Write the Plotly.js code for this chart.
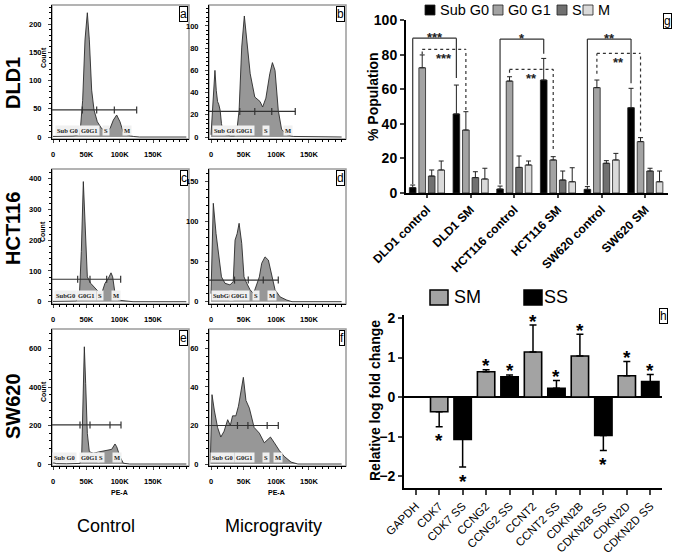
<!DOCTYPE html>
<html>
<head>
<meta charset="utf-8">
<script src="https://cdn.plot.ly/plotly-3.0.1.min.js"></script>
<style>
  html, body { margin: 0; padding: 0; background: #fff; }
  #chart { width: 675px; height: 555px; }
</style>
</head>
<body>
<div id="chart"></div>
<script>
const W = 675, H = 555;
const FONT = 'Arial, "Liberation Sans", sans-serif';
const px = v => v / W;
const py = v => 1 - v / H;

// flow cytometry histograms, PE-A in thousands vs count
const dld1CtrlPE = [0, 10, 20, 30, 36, 40.5, 44.5, 48, 51.5, 54.5, 58, 61.5, 66.5, 73, 80.5, 85.5, 90.5, 95.5, 100.5, 105.5, 113, 120.5, 130, 200];
const dld1CtrlCount = [1, 1, 1, 2, 3, 6, 65, 172, 220, 172, 83, 48, 27, 15, 11, 15, 30, 39, 27, 8, 3, 1, 0, 0];
const dld1MgPE = [0, 3, 6, 8, 10, 12, 14, 16, 18, 22, 30, 36, 39, 43, 47, 51, 55, 60, 67, 75, 79, 84, 90, 94, 98, 103, 108, 116, 126, 200];
const dld1MgCount = [2, 30, 60, 42, 32, 29, 24, 12, 6, 2, 1, 1, 3, 24, 81, 109, 84, 57, 36, 32, 27, 35, 57, 67, 60, 24, 7, 2, 0.5, 0];
const hctCtrlPE = [0, 20, 35, 39.5, 42.5, 45.5, 48.5, 51.5, 56.5, 63, 68, 73, 78, 83, 87, 89.5, 93, 98, 110, 120, 200];
const hctCtrlCount = [1, 2, 3, 16, 163, 391, 223, 81, 60, 44, 33, 27, 60, 76, 94, 81, 27, 5, 2, 0, 0];
const hctMgPE = [0, 1.5, 3.5, 7.7, 11, 16, 21.4, 29, 34, 36.8, 40, 43, 47, 50.5, 54.7, 59.7, 65, 70, 74, 77.6, 82.7, 87.8, 93, 98, 105.7, 116, 124, 200];
const hctMgCount = [10, 80, 123, 85, 60, 31, 23, 21, 25, 77, 85, 98, 73, 31, 23, 15, 10, 23, 31, 48, 56, 52, 35, 15, 6, 2, 0, 0];
const swCtrlPE = [0, 2, 5, 20, 38, 40.5, 43, 45.5, 47, 49, 51.5, 54.5, 60.5, 70.5, 80.5, 88, 93, 95.5, 100.5, 105.5, 115, 200];
const swCtrlCount = [10, 5, 2, 1, 1, 3, 38, 332, 609, 419, 159, 64, 56, 64, 73, 76, 104, 90, 38, 4, 0, 0];
const swMgPE = [-1, 0, 1.5, 5, 10, 15, 20, 25.5, 29.5, 33, 38, 42, 46, 49.5, 53.5, 58.7, 66, 74, 81.6, 86.8, 91, 97, 104.6, 112, 122.5, 133, 200];
const swMgCount = [2, 25, 36, 28, 19, 14, 17, 23, 20, 25, 25, 30, 37, 45, 33, 29, 19, 16, 11, 12.5, 14, 11, 7, 4, 1, 0, 0];

// gate boundaries (K) and gate line level (count)
const dld1CtrlGates = [44, 65.5, 92, 125.5];
const dld1MgGates = [44, 67, 93, 129];
const hctCtrlGates = [37, 55.5, 80.5, 101.5];
const hctMgGates = [36, 57, 80, 103];
const swCtrlGates = [40.5, 55.5, 85.5, 102];
const swMgGates = [40.5, 56.5, 86, 103];
const gateLevels = [48, 23, 73, 27, 203, 20];

const peTicks = [0, 50, 100, 150];
const peTickText = ['0', '50K', '100K', '150K'];

// cell cycle populations (%)
const groups = ['DLD1 control', 'DLD1 SM', 'HCT116 control', 'HCT116 SM', 'SW620 control', 'SW620 SM'];
const phases = ['Sub G0', 'G0 G1', 'S', 'M'];
const subG0 = [3.1, 45.7, 2.3, 65.3, 2.1, 49.3];
const subG0Err = [1.5, 16.7, 1.7, 12.5, 1.6, 11.2];
const g0g1 = [72.4, 36.4, 64.7, 19.1, 60.9, 29.7];
const g0g1Err = [7.4, 10.6, 2.5, 1.9, 4.4, 2.3];
const sPhase = [9.8, 8.9, 14.8, 7.5, 17.2, 12.7];
const sPhaseErr = [3.5, 3.4, 6.6, 5.2, 1.5, 1.6];
const mPhase = [13.3, 8.1, 16.2, 6.5, 19.1, 6.5];
const mPhaseErr = [5.2, 6.2, 2.3, 8.1, 3.8, 6.2];

// significance brackets: [from group, to group, phase slot, top, left end, right end, stars, dashed]
const brackets = [
  [0, 1, 0, 89.5, 5, 66.5, '***', false],
  [0, 1, 1, 83, 80, 48, '***', true],
  [2, 3, 0, 89, 5, 80.5, '*', false],
  [2, 3, 1, 71.5, 69.5, 25.5, '**', true],
  [4, 5, 0, 89, 4.5, 63.5, '**', false],
  [4, 5, 1, 80.7, 69, 35.5, '**', true]
];

// gene expression (relative log fold change)
const genes = ['GAPDH', 'CDK7', 'CDK7 SS', 'CCNG2', 'CCNG2 SS', 'CCNT2', 'CCNT2 SS', 'CDKN2B', 'CDKN2B SS', 'CDKN2D', 'CDKN2D SS'];
const smGenes = ['CDK7', 'CCNG2', 'CCNT2', 'CDKN2B', 'CDKN2D'];
const smFold = [-0.37, 0.64, 1.14, 1.04, 0.54];
const smErr = [0.38, 0.05, 0.68, 0.55, 0.36];
const ssGenes = ['CDK7 SS', 'CCNG2 SS', 'CCNT2 SS', 'CDKN2B SS', 'CDKN2D SS'];
const ssFold = [-1.07, 0.51, 0.22, -0.97, 0.39];
const ssErr = [0.70, 0.05, 0.20, 0.38, 0.18];

const traces = [];
const layout = {
  width: W, height: H,
  margin: {l: 0, r: 0, t: 0, b: 0},
  paper_bgcolor: '#fff', plot_bgcolor: '#fff',
  font: {family: FONT, color: '#000'},
  showlegend: false,
  barmode: 'group', bargap: 0.13, bargroupgap: 0.3,
  shapes: [], annotations: []
};

function smallFont(size) { return {family: FONT, size: size, weight: 'bold', color: '#000'}; }
// text placed in page pixels, centred on (x, y)
function label(text, x, y, font, extra) {
  layout.annotations.push(Object.assign({xref: 'paper', yref: 'paper', x: px(x), y: py(y),
    xanchor: 'center', yanchor: 'middle', text: text, showarrow: false, font: font}, extra || {}));
}

// ---- histogram panels a-f ----
const hist = [
  {pe: dld1CtrlPE, n: dld1CtrlCount, gates: dld1CtrlGates, lab: ['Sub G0', 'G0G1', 'S', 'M'], labX: [21, 54, 80, 111],
   box: [52, 5, 189, 139], xr: [-1.5, 204], yr: [-3.5, 233.7], dt: 50, tag: 'a', count: 58},
  {pe: dld1MgPE, n: dld1MgCount, gates: dld1MgGates, lab: ['Sub G0', 'G0G1', 'S', 'M'], labX: [20, 52, 84, 118],
   box: [209, 5, 346, 139], xr: [-3.1, 206.7], yr: [-1.8, 118.9], dt: 20, tag: 'b'},
  {pe: hctCtrlPE, n: hctCtrlCount, gates: hctCtrlGates, lab: ['SubG0', 'G0G1', 'S', 'M'], labX: [18, 50, 71, 94.5],
   box: [52, 169, 189, 304], xr: [-1.5, 204], yr: [-7.5, 432], dt: 100, tag: 'c', count: 232},
  {pe: hctMgPE, n: hctMgCount, gates: hctMgGates, lab: ['SubG0', 'G0G1', 'S', 'M'], labX: [17, 44, 69, 93],
   box: [209, 169, 346, 304], xr: [-3.1, 206.7], yr: [-2.9, 165.9], dt: 50, tag: 'd'},
  {pe: swCtrlPE, n: swCtrlCount, gates: swCtrlGates, lab: ['Sub G0', 'G0G1', 'S', 'M'], labX: [16.5, 54, 72, 96],
   box: [52, 329, 189, 466], xr: [-1.5, 204], yr: [-10.4, 701.3], dt: 200, tag: 'e', count: 392, pea: true},
  {pe: swMgPE, n: swMgCount, gates: swMgGates, lab: ['Sub G0', 'G0G1', 'S', 'M'], labX: [17, 50.5, 84, 103],
   box: [209, 329, 346, 466], xr: [-3.1, 206.7], yr: [-1.04, 70.1], dt: 20, tag: 'f', pea: true}
];

hist.forEach((p, i) => {
  const k = i + 1;
  const xa = 'x' + (k === 1 ? '' : k), ya = 'y' + (k === 1 ? '' : k);
  const xk = 'xaxis' + (k === 1 ? '' : k), yk = 'yaxis' + (k === 1 ? '' : k);
  traces.push({
    type: 'scatter', mode: 'lines', x: p.pe, y: p.n, xaxis: xa, yaxis: ya,
    fill: 'tozeroy', fillcolor: '#979797', line: {color: '#2a2a2a', width: 0.9},
    hoverinfo: 'skip'
  });
  layout[xk] = {
    domain: [px(p.box[0]), px(p.box[2])], anchor: ya, range: p.xr,
    showgrid: false, zeroline: false, showline: true, linecolor: '#000', linewidth: 1,
    tickvals: peTicks, ticktext: peTickText, ticks: 'outside', ticklen: 3, tickwidth: 1,
    minor: {dtick: 10, ticks: 'outside', ticklen: 2, tickcolor: '#000'},
    tickfont: smallFont(7.5), ticklabelstandoff: 5
  };
  layout[yk] = {
    domain: [py(p.box[3]), py(p.box[1])], anchor: xa, range: p.yr,
    showgrid: false, zeroline: false, showline: true, linecolor: '#000', linewidth: 1,
    dtick: p.dt, tick0: 0, ticks: 'outside', ticklen: 3, tickwidth: 1,
    minor: {dtick: p.dt / 5, ticks: 'outside', ticklen: 2, tickcolor: '#000'},
    tickfont: smallFont(7.5), ticklabelstandoff: 5
  };
  // grey frame
  layout.shapes.push({type: 'rect', xref: xa + ' domain', yref: ya + ' domain', x0: 0, x1: 1, y0: 0, y1: 1,
    line: {color: '#9a9a9a', width: 1.5}, layer: 'below'});
  // gate line with boundary marks
  const lvl = gateLevels[i];
  layout.shapes.push({type: 'line', xref: xa, yref: ya, x0: p.xr[0], x1: p.gates[3], y0: lvl, y1: lvl,
    line: {color: '#333', width: 1.2}});
  p.gates.forEach(g => {
    layout.shapes.push({type: 'line', xref: xa, yref: ya, x0: g, x1: g, ysizemode: 'pixel', yanchor: lvl,
      y0: -3.5, y1: 3.5, line: {color: '#333', width: 1.2}});
  });
  p.lab.forEach((t, j) => {
    layout.annotations.push({xref: xa, yref: ya + ' domain', x: p.labX[j], y: 0, xanchor: 'center', yanchor: 'bottom', yshift: 3,
      text: t, showarrow: false, font: {family: 'Liberation Serif, serif', size: 6.5, weight: 'bold', color: '#222'},
      bgcolor: '#f0f0f0', borderpad: 1});
  });
  // panel letter
  layout.annotations.push({xref: xa + ' domain', yref: ya + ' domain', x: 1, y: 1, xanchor: 'right', yanchor: 'top',
    xshift: -1, yshift: -1, text: p.tag, showarrow: false, font: {family: FONT, size: 12, color: '#000'},
    bordercolor: '#000', borderwidth: 1, borderpad: 0, bgcolor: '#fff'});
  if (p.count) label('Count', 43, p.count, smallFont(7), {textangle: -90});
  if (p.pea) {
    layout.annotations.push({xref: xa + ' domain', yref: 'paper', x: 0.49, y: py(492), xanchor: 'center', yanchor: 'middle',
      text: 'PE-A', showarrow: false, font: smallFont(7)});
  }
});

// row / column labels
[['DLD1', 83], ['HCT116', 229], ['SW620', 406]].forEach(r => {
  label(r[0], 13, r[1], {family: FONT, size: 20, weight: 'bold', color: '#000'}, {textangle: -90});
});
[['Control', 106], ['Microgravity', 273]].forEach(c => {
  label(c[0], c[1], 526, {family: FONT, size: 18, color: '#000'});
});

// ---- panel g: cell cycle bars ----
const phaseData = [[subG0, subG0Err], [g0g1, g0g1Err], [sPhase, sPhaseErr], [mPhase, mPhaseErr]];
const phaseColors = ['#000000', '#a3a3a3', '#707070', '#dadada'];
phaseData.forEach((d, j) => {
  traces.push({
    type: 'bar', x: groups, y: d[0], name: phases[j], xaxis: 'x7', yaxis: 'y7',
    marker: {color: phaseColors[j], line: {color: '#222', width: 0.8}},
    error_y: {type: 'data', array: d[1], arrayminus: d[1].map(() => 0), symmetric: false,
      color: '#222', thickness: 1, width: 2.5},
    hoverinfo: 'skip'
  });
});
layout.xaxis7 = {
  domain: [px(406), px(668)], anchor: 'y7', type: 'category', range: [-0.48, 5.52],
  showgrid: false, zeroline: false, showline: true, linecolor: '#000', linewidth: 2,
  ticks: 'outside', ticklen: 3, tickwidth: 2, tickangle: -45,
  tickfont: {family: FONT, size: 12, weight: 'bold', color: '#000'}
};
layout.yaxis7 = {
  domain: [py(193), py(20)], anchor: 'x7', range: [0, 100], dtick: 20,
  showgrid: false, zeroline: false, showline: true, linecolor: '#000', linewidth: 2,
  ticks: 'outside', ticklen: 4, tickwidth: 2,
  tickfont: {family: FONT, size: 14, weight: 'bold', color: '#000'}
};
label('% Population', 373, 97, {family: FONT, size: 14, weight: 'bold', color: '#000'}, {textangle: -90});

const slot = (1 - layout.bargap) / phases.length;
const slotOffset = j => (j - (phases.length - 1) / 2) * slot;
brackets.forEach(b => {
  const x0 = b[0] + slotOffset(b[2]), x1 = b[1] + slotOffset(b[2]);
  const line = {color: '#333', width: 1.2, dash: b[7] ? 'dot' : 'solid'};
  layout.shapes.push({type: 'line', xref: 'x7', yref: 'y7', x0: x0, x1: x0, y0: b[4], y1: b[3], line: line});
  layout.shapes.push({type: 'line', xref: 'x7', yref: 'y7', x0: x0, x1: x1, y0: b[3], y1: b[3], line: line});
  layout.shapes.push({type: 'line', xref: 'x7', yref: 'y7', x0: x1, x1: x1, y0: b[5], y1: b[3], line: line});
  layout.annotations.push({xref: 'x7', yref: 'y7', x: (x0 + x1) / 2, y: b[3], text: b[6], showarrow: false,
    xanchor: 'center', yanchor: 'middle', yshift: b[7] ? -9 : 1,
    font: {family: FONT, size: 13, weight: 'bold', color: '#222'}});
});

// legend g
const gLegendX = [425, 493, 557, 583];
phases.forEach((name, j) => {
  const x0 = gLegendX[j];
  layout.shapes.push({type: 'rect', xref: 'paper', yref: 'paper', x0: px(x0), x1: px(x0 + 10), y0: py(15), y1: py(5),
    fillcolor: phaseColors[j], line: {color: '#222', width: 0.8}});
  label(name, x0 + 13, 10, {family: FONT, size: 14.5, color: '#000'}, {xanchor: 'left'});
});
layout.annotations.push({xref: 'paper', yref: 'paper', x: px(672), y: py(13), xanchor: 'right', yanchor: 'top',
  text: 'g', showarrow: false, font: {family: FONT, size: 12, color: '#000'},
  bordercolor: '#000', borderwidth: 1, borderpad: 0});

// ---- panel h: gene expression ----
function dirErr(vals, errs, up) {
  return vals.map((v, i) => ((v >= 0) === up ? errs[i] : 0));
}
[[smGenes, smFold, smErr, '#a3a3a3', 'SM'], [ssGenes, ssFold, ssErr, '#000000', 'SS']].forEach(s => {
  traces.push({
    type: 'bar', x: s[0], y: s[1], name: s[4], xaxis: 'x8', yaxis: 'y8', offsetgroup: 'h', width: 0.74,
    marker: {color: s[3], line: {color: '#000', width: 1.6}},
    error_y: {type: 'data', symmetric: false, array: dirErr(s[1], s[2], true), arrayminus: dirErr(s[1], s[2], false),
      color: '#000', thickness: 1.5, width: 3.5},
    hoverinfo: 'skip'
  });
  s[0].forEach((g, i) => {
    const v = s[1][i], end = v >= 0 ? v + s[2][i] : v - s[2][i];
    layout.annotations.push({xref: 'x8', yref: 'y8', x: g, y: end, text: '*', showarrow: false,
      xanchor: 'center', yanchor: 'middle', yshift: v >= 0 ? 4 : -14,
      font: {family: FONT, size: 19, weight: 'bold', color: '#000'}});
  });
});
layout.xaxis8 = {
  domain: [px(404), px(662)], anchor: 'y8', type: 'category', categoryorder: 'array', categoryarray: genes,
  range: [-0.5, 10.5], showgrid: false, zeroline: false, showline: true, linecolor: '#000', linewidth: 2,
  ticks: 'outside', ticklen: 5, tickwidth: 2, tickangle: -45,
  tickfont: {family: FONT, size: 11.5, color: '#000'}
};
layout.yaxis8 = {
  domain: [py(488), py(315)], anchor: 'x8', range: [-2.3, 2.076], dtick: 1, tick0: 0,
  showgrid: false, zeroline: true, zerolinecolor: '#000', zerolinewidth: 2,
  showline: true, linecolor: '#000', linewidth: 2, ticks: 'outside', ticklen: 4, tickwidth: 2,
  tickfont: {family: FONT, size: 14, weight: 'bold', color: '#000'}
};
label('Relative log fold change', 375, 401, {family: FONT, size: 14, weight: 'bold', color: '#000'}, {textangle: -90});

// legend h
[[430, '#a3a3a3', 'SM'], [524, '#000000', 'SS']].forEach(l => {
  layout.shapes.push({type: 'rect', xref: 'paper', yref: 'paper', x0: px(l[0]), x1: px(l[0] + 18), y0: py(305), y1: py(290),
    fillcolor: l[1], line: {color: '#000', width: 1.5}});
  label(l[2], l[0] + (l[2] === 'SM' ? 22 : 18), 297, {family: FONT, size: 18, color: '#000'}, {xanchor: 'left'});
});
layout.annotations.push({xref: 'paper', yref: 'paper', x: px(668), y: py(308), xanchor: 'right', yanchor: 'top',
  text: 'h', showarrow: false, font: {family: FONT, size: 12, color: '#000'},
  bordercolor: '#000', borderwidth: 1, borderpad: 0});

Plotly.newPlot('chart', traces, layout, {staticPlot: true, displayModeBar: false});
</script>
</body>
</html>
